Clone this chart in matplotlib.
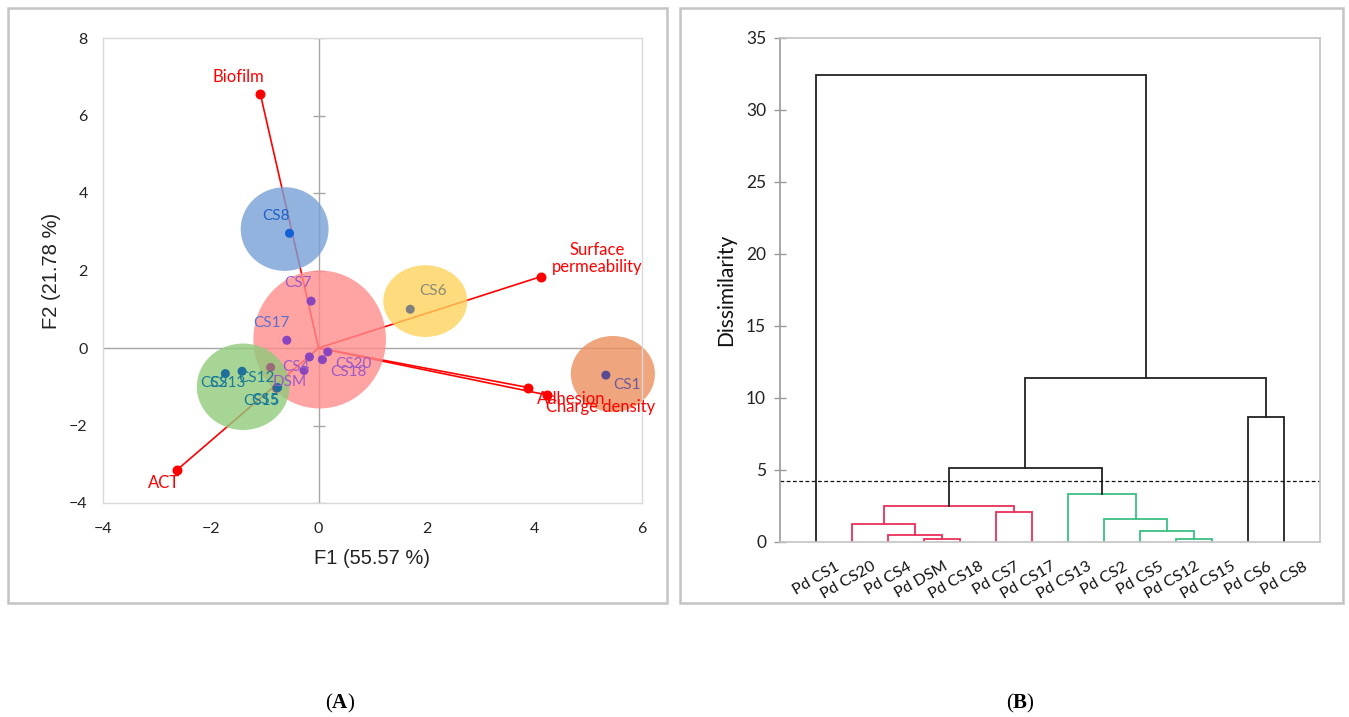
import numpy as np
import matplotlib
matplotlib.use("Agg")
import matplotlib.pyplot as plt
from matplotlib.patches import Ellipse, Rectangle

plt.rcParams["font.family"] = ["Lato", "DejaVu Sans"]
plt.rcParams["mathtext.fontset"] = "custom"
plt.rcParams["mathtext.rm"] = "Liberation Serif"
plt.rcParams["mathtext.bf"] = "Liberation Serif:bold"

# ---- (A) PCA biplot data ----
sample_names = ["CS1", "CS20", "CS4", "DSM", "CS18", "CS7", "CS17",
                "CS13", "CS2", "CS5", "CS12", "CS15", "CS6", "CS8"]
sample_f1 = [5.33, 0.17, -0.17, -0.27, 0.07, -0.14, -0.59,
             -1.42, -1.73, -0.78, -0.89, -0.76, 1.70, -0.54]
sample_f2 = [-0.70, -0.10, -0.23, -0.58, -0.30, 1.21, 0.20,
             -0.60, -0.66, -1.04, -0.50, -1.02, 1.00, 2.96]

var_names = ["Biofilm", "Surface\npermeability", "Adhesion", "Charge density", "ACT"]
var_f1 = [-1.08, 4.12, 3.89, 4.23, -2.63]
var_f2 = [6.55, 1.84, -1.02, -1.21, -3.15]

cluster_f1 = [-0.63, 0.02, 1.98, 5.46, -1.40]
cluster_f2 = [3.07, 0.22, 1.21, -0.67, -1.00]
cluster_w = [1.63, 2.46, 1.56, 1.56, 1.72]
cluster_h = [2.16, 3.56, 1.85, 1.96, 2.23]

# ---- (B) dendrogram data ----
leaf_labels = ["Pd CS1", "Pd CS20", "Pd CS4", "Pd DSM", "Pd CS18", "Pd CS7", "Pd CS17",
               "Pd CS13", "Pd CS2", "Pd CS5", "Pd CS12", "Pd CS15", "Pd CS6", "Pd CS8"]
merge_left = [3, 2, 1, 5, 16, 10, 9, 8, 7, 18, 12, 23, 0]
merge_right = [4, 14, 15, 6, 17, 11, 19, 20, 21, 22, 13, 24, 25]
merge_height = [0.23, 0.46, 1.25, 2.08, 2.50, 0.23, 0.79, 1.57, 3.33, 5.11, 8.70, 11.41, 32.43]
merge_group = ["r", "r", "r", "r", "r", "g", "g", "g", "g", "k", "k", "k", "k"]
cut_height = 4.24

# ---- styles ----
point_colors = ["#5a4a90", "#8a45be", "#8a45be", "#8a45be", "#8a45be", "#8a45be", "#8a45be",
                "#1f6f9a", "#1f6f9a", "#8a5a74", "#9a6a78", "#1f6f9a", "#7f7f7f", "#1060d8"]
label_colors = ["#6a5aa0", "#9b59c6", "#9b59c6", "#9b59c6", "#9b59c6", "#9b59c6", "#5a6fd0",
                "#1a7a9a", "#1a7a9a", "#1a7a9a", "#1a7a9a", "#1a7a9a", "#8a8a7a", "#2060c8"]
label_offsets = [(15.5, -7.4), (18.7, -8.9), (-9.5, -7.4), (-10.4, -8.2), (19.1, -8.6),
                 (-9.1, 12.7), (-11.4, 12.7), (-10.3, -8.4), (-8.4, -6.7), (-8.6, -8.4),
                 (-9.9, -7.9), (-11.9, -9.4), (16.2, 13.2), (-9.4, 12.6)]
var_offsets = [(-15.6, 12.2), (41, 13), (31, -8), (39, -8.4), (-9.4, -9.4)]
cluster_colors = ["#78a0d7", "#ff8c8c", "#fed35b", "#ec905e", "#90cb7b"]
group_colors = {"r": "#e8305a", "g": "#3cbf82", "k": "#222222"}

fig = plt.figure(figsize=(13.49, 7.17), dpi=100)

# ================= (A) =================
ax1 = fig.add_axes([103 / 1349, 1 - 503 / 717, 539 / 1349, 465 / 717])
ax1.set_xlim(-4, 6)
ax1.set_ylim(-4, 8)
for s in ax1.spines.values():
    s.set_color("#d9d9d9")
    s.set_linewidth(1)
ax1.axhline(0, color="#a6a6a6", lw=1, zorder=0)
ax1.axvline(0, color="#a6a6a6", lw=1, zorder=0)
xt = [-4, -2, 0, 2, 4, 6]
yt = [-4, -2, 0, 2, 4, 6, 8]
ax1.set_xticks(xt)
ax1.set_yticks(yt)
ax1.tick_params(length=0, labelsize=11.5, colors="#222222")
ax1.tick_params(axis="x", pad=14)
ax1.tick_params(axis="y", pad=11)
ax1.plot(np.zeros(len(yt)), yt, ls="none", marker="_", ms=9, mew=1, color="#a6a6a6", zorder=0)
ax1.set_xlabel("F1 (55.57 %)", family="Liberation Sans", fontsize=14.5, labelpad=9, color="#222222")
ax1.set_ylabel("F2 (21.78 %)", family="Liberation Sans", fontsize=14.5, labelpad=6, color="#222222")

for x, y in zip(var_f1, var_f2):
    ax1.plot([0, x], [0, y], color="#ff0000", lw=1.2, zorder=1, clip_on=False)
ax1.scatter(var_f1, var_f2, s=38, color="#ff0000", zorder=1.5, clip_on=False)
for name, x, y, off in zip(var_names, var_f1, var_f2, var_offsets):
    ax1.annotate(name, (x, y), xytext=off, textcoords="offset points",
                 ha="center", va="center", color="#ff0000", fontsize=12,
                 linespacing=1.1, zorder=5, annotation_clip=False)

for cx, cy, w, h, c in zip(cluster_f1, cluster_f2, cluster_w, cluster_h, cluster_colors):
    ax1.add_patch(Ellipse((cx, cy), w, h, facecolor=c, edgecolor="none",
                          alpha=0.8, zorder=2, clip_on=False))

ax1.scatter(sample_f1, sample_f2, s=30, c=point_colors, zorder=3, clip_on=False)
for name, x, y, c, off in zip(sample_names, sample_f1, sample_f2, label_colors, label_offsets):
    ax1.annotate(name, (x, y), xytext=off, textcoords="offset points",
                 ha="center", va="center", color=c, fontsize=11, zorder=4,
                 annotation_clip=False)

# ================= (B) =================
ax2 = fig.add_axes([780 / 1349, 1 - 542 / 717, 540 / 1349, 504 / 717])
n = len(leaf_labels)
ax2.set_xlim(0, n + 1)
ax2.set_ylim(0, 35)
node_x = {i: i + 1.0 for i in range(n)}
node_h = {i: 0.0 for i in range(n)}
for k, (a, b, h, g) in enumerate(zip(merge_left, merge_right, merge_height, merge_group)):
    xa, xb = node_x[a], node_x[b]
    ax2.plot([xa, xa, xb, xb], [node_h[a], h, h, node_h[b]],
             color=group_colors[g], lw=1.3, solid_joinstyle="miter")
    node_x[n + k] = (xa + xb) / 2
    node_h[n + k] = h
ax2.axhline(cut_height, color="#111111", lw=0.9, ls=(0, (3, 2)))

for s in ax2.spines.values():
    s.set_color("#c4c4c4")
    s.set_linewidth(1.2)
ax2.spines["left"].set_color("#9a9a9a")
ax2.set_yticks(range(0, 36, 5))
ax2.set_xticks([])
ax2.tick_params(axis="y", direction="inout", length=8, width=1, color="#9a9a9a",
                labelsize=12.5, pad=6, labelcolor="#222222")
ax2.set_ylabel("Dissimilarity", fontsize=15, labelpad=7, color="#111111")
for i, lab in enumerate(leaf_labels):
    ax2.annotate(lab, (i + 1, 0), xytext=(16, -17), textcoords="offset points",
                 rotation=30, rotation_mode="anchor", ha="right", va="center",
                 fontsize=11.5, color="#111111", annotation_clip=False)

# panel frames and captions
fig.add_artist(Rectangle((8 / 1349, 1 - 603 / 717), 659 / 1349, 595 / 717,
                         transform=fig.transFigure, fill=False, ec="#c4c4c4", lw=1.8))
fig.add_artist(Rectangle((680 / 1349, 1 - 603 / 717), 663 / 1349, 595 / 717,
                         transform=fig.transFigure, fill=False, ec="#c4c4c4", lw=1.8))
fig.text(340 / 1349, 1 - 703 / 717, r"($\mathbf{A}$)", family="Liberation Serif",
         fontsize=15, ha="center", va="center")
fig.text(1020 / 1349, 1 - 703 / 717, r"($\mathbf{B}$)", family="Liberation Serif",
         fontsize=15, ha="center", va="center")

fig.savefig("out.png", dpi=100)
